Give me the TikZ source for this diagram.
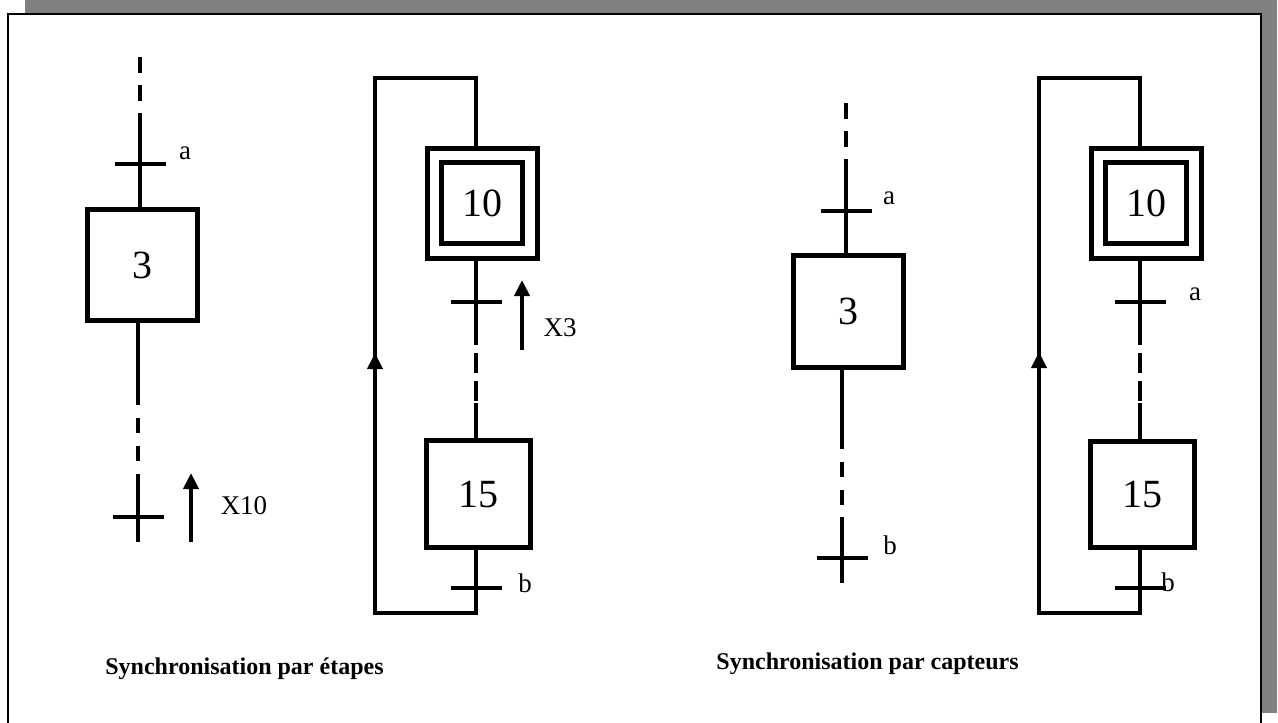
\documentclass[tikz,border=0pt]{standalone}
\usepackage{fontspec}
\setmainfont{Liberation Serif}
\usetikzlibrary{positioning,arrows.meta,calc}
\definecolor{shadowgray}{RGB}{128,128,128}

\begin{document}
\begin{tikzpicture}[x=0.5pt,y=-0.5pt,
    etape/.style={rectangle,draw,line width=2.5pt,minimum width=55pt,
                  minimum height=55.5pt,inner sep=0pt,
                  font=\fontsize{20}{24}\selectfont},
    init/.style={etape,double,double distance=4.75pt,outer sep=4.875pt,
                 minimum width=47.75pt,minimum height=47.75pt},
    tbar/.style={rectangle,fill,minimum width=25.5pt,minimum height=2pt,
                 inner sep=0pt,outer sep=0pt},
    lbl/.style={font=\fontsize{13.5}{16}\selectfont,inner sep=0pt},
    caption/.style={font=\fontsize{12}{14}\selectfont\bfseries,
                    inner sep=0pt,anchor=base west},
    ln/.style={line width=2pt},
    dashln/.style={ln,dash pattern=on 8pt off 6pt},
    dashlow/.style={ln,dash pattern=on 7.5pt off 6.5pt},
    dashmid/.style={ln,dash pattern=on 10pt off 4pt,dash phase=10pt},
    arr/.style={ln,-{Triangle[width=7.5pt,length=8pt]}}]
  \useasboundingbox (0,0) rectangle (1278,722);
  \clip (0,0) rectangle (1278,722);
  % frame with shadow
  \fill[shadowgray] (25,0) rectangle (1277,713);
  \draw[fill=white,line width=1pt] (8,14) rectangle (1261,740);

  % --- synchronisation par etapes: step 3
  \node[etape] (s3) at (142,265) {3};
  \node[tbar] (ta) at (140,164) {};
  \node[lbl] (la) at (185,153) {a};
  \coordinate (in3) at (140,57);
  \coordinate (in3b) at (140,113);
  \draw[dashln] (in3) -- (in3b);
  \draw[ln] (in3b) -- (ta) -- (ta |- s3.north);
  \node[tbar] (tx10) at (138,517) {};
  \coordinate (d3a) at (138,390);
  \coordinate (d3b) at (138,475);
  \coordinate (out3) at (138,542);
  \draw[ln] (s3.south -| d3a) -- (d3a);
  \draw[dashlow] (d3a) -- (d3b);
  \draw[ln] (d3b) -- (tx10) -- (out3);
  \coordinate (ax10a) at (191,542);
  \coordinate (ax10b) at (191,473);
  \draw[arr] (ax10a) -- (ax10b);
  \node[lbl] (lx10) at (244,506) {X10};

  % --- synchronisation par etapes: steps 10 and 15
  \coordinate (lt1) at (375,78);
  \coordinate (lb1) at (375,613);
  \coordinate (la1) at (375,353);
  \node[init] (s10) at (482,203) {10};
  \node[tbar] (tx3) at (476,302) {};
  \node[etape,minimum width=52pt,minimum height=53.5pt] (s15) at (478,494) {15};
  \node[tbar] (tb) at (476,588) {};
  \coordinate (d10a) at (476,345);
  \coordinate (d10b) at (476,403);
  \draw[ln] (tx3 |- s10.south) -- (tx3) -- (d10a);
  \draw[dashmid] (d10a) -- (d10b);
  \draw[ln] (d10b) -- (d10b |- s15.north);
  \draw[ln] (tb |- s15.south) -- (tb) -- (tb |- lb1) -- (lb1) -- (lt1)
            -- (lt1 -| tb) -- (tb |- s10.north);
  \draw[arr] (lb1) -- (la1);
  \coordinate (ax3a) at (522,350);
  \coordinate (ax3b) at (522,280);
  \draw[arr] (ax3a) -- (ax3b);
  \node[lbl] (lx3) at (560,328) {X3};
  \node[lbl] (lb) at (525,583) {b};

  % --- synchronisation par capteurs: step 3
  \node[etape,minimum height=56pt] (s3b) at (848,311) {3};
  \node[tbar] (ta2) at (846,211) {};
  \node[lbl] (la2) at (889,198) {a};
  \coordinate (in3c) at (846,103);
  \coordinate (in3d) at (846,160);
  \draw[dashln] (in3c) -- (in3d);
  \draw[ln] (in3d) -- (ta2) -- (ta2 |- s3b.north);
  \node[tbar] (tb2) at (842,558) {};
  \coordinate (d3c) at (842,434);
  \coordinate (d3d) at (842,517);
  \coordinate (out3b) at (842,583);
  \draw[ln] (s3b.south -| d3c) -- (d3c);
  \draw[dashlow] (d3c) -- (d3d);
  \draw[ln] (d3d) -- (tb2) -- (out3b);
  \node[lbl] (lb2) at (890,545) {b};

  % --- synchronisation par capteurs: steps 10 and 15
  \coordinate (lt2) at (1039,78);
  \coordinate (lb2c) at (1039,613);
  \coordinate (la3) at (1039,352);
  \node[init] (s10b) at (1146,203) {10};
  \node[tbar] (ta3) at (1140,302) {};
  \node[lbl] (la3t) at (1195,294) {a};
  \node[etape,minimum width=52pt,minimum height=53pt] (s15b) at (1142,494) {15};
  \node[tbar] (tb3) at (1140,588) {};
  \node[lbl] (lb3) at (1168,582) {b};
  \coordinate (d10c) at (1140,345);
  \coordinate (d10d) at (1140,403);
  \draw[ln] (ta3 |- s10b.south) -- (ta3) -- (d10c);
  \draw[dashmid] (d10c) -- (d10d);
  \draw[ln] (d10d) -- (d10d |- s15b.north);
  \draw[ln] (tb3 |- s15b.south) -- (tb3) -- (tb3 |- lb2c) -- (lb2c) -- (lt2)
            -- (lt2 -| tb3) -- (tb3 |- s10b.north);
  \draw[arr] (lb2c) -- (la3);

  % captions
  \node[caption] (cap1) at (105,674) {Synchronisation par étapes};
  \node[caption] (cap2) at (716,669) {Synchronisation par capteurs};
\end{tikzpicture}
\end{document}
